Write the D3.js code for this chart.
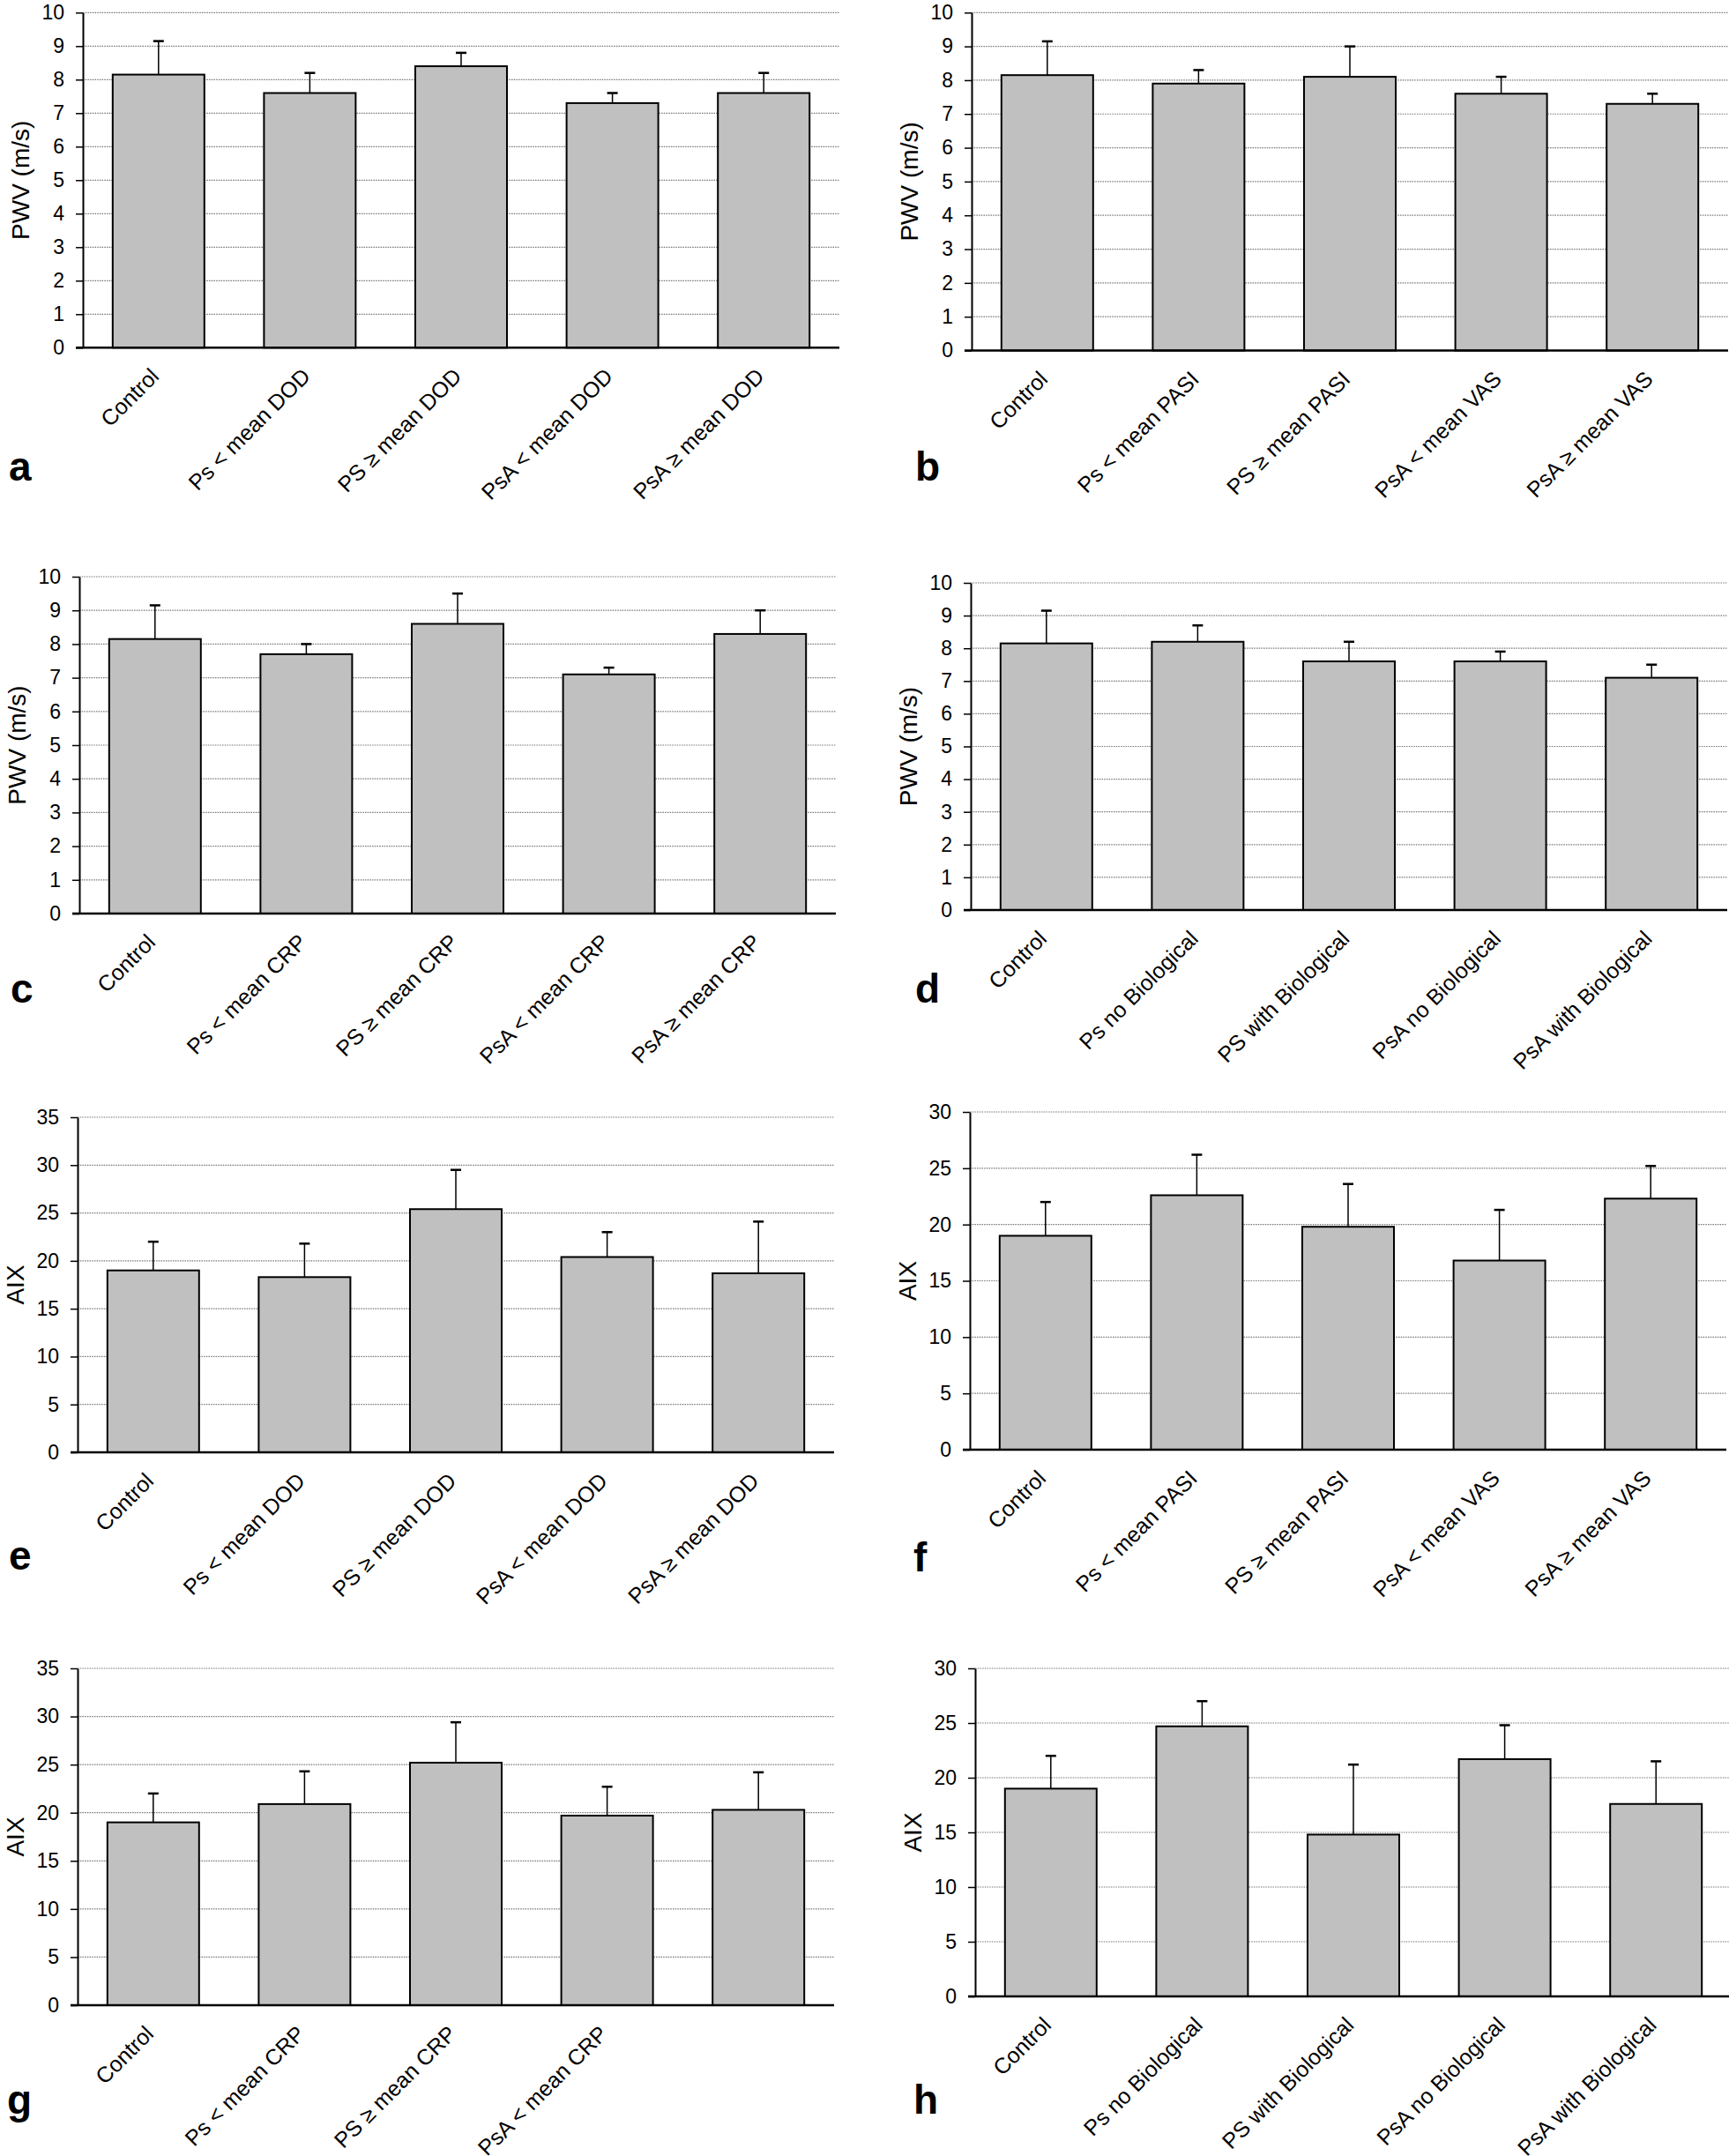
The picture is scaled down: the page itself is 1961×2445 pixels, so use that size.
<!DOCTYPE html>
<html>
<head>
<meta charset="utf-8">
<script src="https://cdn.jsdelivr.net/npm/d3@7"></script>
<style>
  html, body { margin: 0; padding: 0; background: #fff; }
  svg { display: block; }
  text { font-family: "Liberation Sans", Arial, sans-serif; fill: #000; }
</style>
</head>
<body>
<svg id="chart" width="1961" height="2445"></svg>
<script>
// ---------- DATA ----------
const catsDOD  = ["Control", "Ps < mean DOD", "PS \u2265 mean DOD", "PsA < mean DOD", "PsA \u2265 mean DOD"];
const catsPASI = ["Control", "Ps < mean PASI", "PS \u2265 mean PASI", "PsA < mean VAS", "PsA \u2265 mean VAS"];
const catsCRP  = ["Control", "Ps < mean CRP", "PS \u2265 mean CRP", "PsA < mean CRP", "PsA \u2265 mean CRP"];
const catsCRPg = ["Control", "Ps < mean CRP", "PS \u2265 mean CRP", "PsA < mean CRP", ""];
const catsBIO  = ["Control", "Ps no Biological", "PS with Biological", "PsA no Biological", "PsA with Biological"];

const pwvTicks  = [0, 1, 2, 3, 4, 5, 6, 7, 8, 9, 10];
const aix35Ticks = [0, 5, 10, 15, 20, 25, 30, 35];
const aix30Ticks = [0, 5, 10, 15, 20, 25, 30];

const valA = [8.15, 7.6, 8.4, 7.3, 7.6];   const errA = [1.0, 0.6, 0.4, 0.3, 0.6];
const valB = [8.15, 7.9, 8.1, 7.6, 7.3];   const errB = [1.0, 0.4, 0.9, 0.5, 0.3];
const valC = [8.15, 7.7, 8.6, 7.1, 8.3];   const errC = [1.0, 0.3, 0.9, 0.2, 0.7];
const valD = [8.15, 8.2, 7.6, 7.6, 7.1];   const errD = [1.0, 0.5, 0.6, 0.3, 0.4];
const valE = [19.0, 18.3, 25.4, 20.4, 18.7]; const errE = [3.0, 3.5, 4.1, 2.6, 5.4];
const valF = [19.0, 22.6, 19.8, 16.8, 22.3]; const errF = [3.0, 3.6, 3.8, 4.5, 2.9];
const valG = [19.0, 20.9, 25.2, 19.7, 20.3]; const errG = [3.0, 3.4, 4.2, 3.0, 3.9];
const valH = [19.0, 24.7, 14.8, 21.7, 17.6]; const errH = [3.0, 2.3, 6.4, 3.1, 3.9];

const letters = ["a", "b", "c", "d", "e", "f", "g", "h"];
const yTitles = ["PWV (m/s)", "PWV (m/s)", "PWV (m/s)", "PWV (m/s)", "AIX", "AIX", "AIX", "AIX"];

// ---------- LAYOUT ----------
const panels = [
  { cats: catsDOD,  vals: valA, errs: errA, ticks: pwvTicks,  left: 94,   top: 14.3, bottom: 394.3, lx: 10,   ly: 545 },
  { cats: catsPASI, vals: valB, errs: errB, ticks: pwvTicks,  left: 1102, top: 14.3, bottom: 397.5, lx: 1038, ly: 545 },
  { cats: catsCRP,  vals: valC, errs: errC, ticks: pwvTicks,  left: 90,   top: 654,  bottom: 1036,  lx: 12,   ly: 1137 },
  { cats: catsBIO,  vals: valD, errs: errD, ticks: pwvTicks,  left: 1101, top: 661,  bottom: 1032,  lx: 1038, ly: 1137 },
  { cats: catsDOD,  vals: valE, errs: errE, ticks: aix35Ticks, left: 88,  top: 1267, bottom: 1647,  lx: 10,   ly: 1780 },
  { cats: catsPASI, vals: valF, errs: errF, ticks: aix30Ticks, left: 1100, top: 1261, bottom: 1644, lx: 1036, ly: 1782 },
  { cats: catsCRPg, vals: valG, errs: errG, ticks: aix35Ticks, left: 88,  top: 1892, bottom: 2274,  lx: 8,    ly: 2397 },
  { cats: catsBIO,  vals: valH, errs: errH, ticks: aix30Ticks, left: 1106, top: 1892, bottom: 2264, lx: 1036, ly: 2397 }
];

const plotW = 858;
const svg = d3.select("#chart");
svg.append("rect").attr("width", 1961).attr("height", 2445).attr("fill", "#fff");

panels.forEach((p, pi) => {
  const g = svg.append("g");
  const idx = d3.range(p.cats.length);
  const x = d3.scaleBand().domain(idx).range([p.left, p.left + plotW]).paddingInner(0.394).paddingOuter(0.197);
  const yMax = d3.max(p.ticks);
  const y = d3.scaleLinear().domain([0, yMax]).range([p.bottom, p.top]);

  // gridlines
  g.append("g").selectAll("line").data(p.ticks.filter(t => t > 0)).join("line")
    .attr("x1", p.left).attr("x2", p.left + plotW)
    .attr("y1", d => y(d)).attr("y2", d => y(d))
    .attr("stroke", "#777").attr("stroke-width", 1.2).attr("stroke-dasharray", "1.5,1.2");

  // bars
  g.append("g").selectAll("rect").data(idx).join("rect")
    .attr("x", i => x(i)).attr("width", x.bandwidth())
    .attr("y", i => y(p.vals[i])).attr("height", i => y(0) - y(p.vals[i]))
    .attr("fill", "#c0c0c0").attr("stroke", "#000").attr("stroke-width", 2);

  // error bars
  const eb = g.append("g");
  eb.selectAll("line.v").data(idx).join("line").attr("class", "v")
    .attr("x1", i => x(i) + x.bandwidth() / 2).attr("x2", i => x(i) + x.bandwidth() / 2)
    .attr("y1", i => y(p.vals[i])).attr("y2", i => y(p.vals[i] + p.errs[i]))
    .attr("stroke", "#000").attr("stroke-width", 1.5);
  eb.selectAll("line.c").data(idx).join("line").attr("class", "c")
    .attr("x1", i => x(i) + x.bandwidth() / 2 - 6).attr("x2", i => x(i) + x.bandwidth() / 2 + 6)
    .attr("y1", i => y(p.vals[i] + p.errs[i])).attr("y2", i => y(p.vals[i] + p.errs[i]))
    .attr("stroke", "#000").attr("stroke-width", 2.5);

  // y axis
  const ax = g.append("g").attr("transform", `translate(${p.left},0)`)
    .call(d3.axisLeft(y).tickValues(p.ticks).tickFormat(d3.format("d")).tickSize(8).tickSizeOuter(0).tickPadding(13));
  ax.select(".domain").attr("stroke", "#000").attr("stroke-width", 2);
  ax.selectAll(".tick line").attr("stroke", "#000").attr("stroke-width", 1.5);
  ax.selectAll(".tick text").attr("font-size", 23).attr("font-family", "Liberation Sans, Arial, sans-serif").attr("fill", "#000");

  // x baseline
  g.append("line").attr("x1", p.left - 8).attr("x2", p.left + plotW)
    .attr("y1", y(0)).attr("y2", y(0)).attr("stroke", "#000").attr("stroke-width", 2.5);

  // category labels
  g.append("g").selectAll("text").data(idx).join("text")
    .attr("transform", i => `translate(${x(i) + x.bandwidth() / 2 + 2},${y(0) + 34}) rotate(-45)`)
    .attr("text-anchor", "end").attr("font-size", 25)
    .text(i => p.cats[i]);

  // y title
  g.append("text")
    .attr("transform", `translate(${p.left - 61},${(p.top + p.bottom) / 2}) rotate(-90)`)
    .attr("text-anchor", "middle").attr("font-size", 28)
    .text(yTitles[pi]);

  // panel letter
  g.append("text").attr("x", p.lx).attr("y", p.ly)
    .attr("font-size", 46).attr("font-weight", "bold")
    .text(letters[pi]);
});
</script>
</body>
</html>
